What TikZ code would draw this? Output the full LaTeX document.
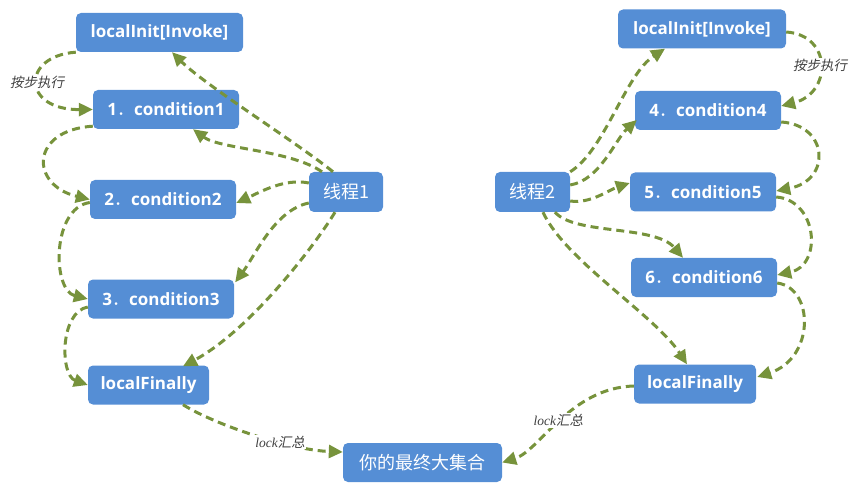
\documentclass[tikz,border=0pt]{standalone}
\usepackage{fontspec}
\setmainfont{Open Sans}
\newfontfamily\cjk{Noto Sans CJK SC}
\newfontfamily\cjkit{Noto Sans CJK SC}[FakeSlant=0.2]
\newfontfamily\serifit{Liberation Serif}
\usetikzlibrary{arrows.meta,calc}
\definecolor{boxblue}{HTML}{558ED5}
\definecolor{arrgreen}{HTML}{77933C}
\definecolor{lblgray}{HTML}{404040}
\newcommand{\cjkbig}{\cjk\mdseries\fontsize{18}{20}\selectfont}
\tikzset{
  box/.style={fill=boxblue, rounded corners=5pt, text=white, inner sep=0pt,
    minimum height=39pt, font=\fontsize{17}{20}\selectfont\bfseries},
  flow/.style={draw=arrgreen, line width=3pt, dash pattern=on 8pt off 5pt,
    -{Triangle[length=14pt,width=13pt]}},
  lbl/.style={font=\fontsize{13.5}{15}\selectfont, text=lblgray, fill=white, inner sep=1pt},
}
\begin{document}
\begin{tikzpicture}[x=1pt,y=-1pt]
\useasboundingbox (0,0) rectangle (864,494);
% left column
\node[box, minimum width=167pt] (iL) at (159.5,32.5) {localInit[Invoke]};
\node[box, minimum width=146pt] (c1) at (166,109.5) {1{\cjk\mdseries ．}condition1};
\node[box, minimum width=146pt] (c2) at (163,199.5) {2{\cjk\mdseries ．}condition2};
\node[box, minimum width=146pt] (c3) at (161,299) {3{\cjk\mdseries ．}condition3};
\node[box, minimum width=121pt] (fL) at (148.5,385) {localFinally};
\node[box, minimum width=74pt, minimum height=40pt] (t1) at (346,192) {{\cjkbig 线程1}};
% bottom
\node[box, minimum width=159pt] (fin) at (422.5,462.5) {{\cjkbig 你的最终大集合}};
% right column
\node[box, minimum width=168pt] (iR) at (702,29) {localInit[Invoke]};
\node[box, minimum width=146pt] (c4) at (708,110.5) {4{\cjk\mdseries ．}condition4};
\node[box, minimum width=146pt] (c5) at (703,192) {5{\cjk\mdseries ．}condition5};
\node[box, minimum width=146pt] (c6) at (704,277.5) {6{\cjk\mdseries ．}condition6};
\node[box, minimum width=122pt] (fR) at (695,384) {localFinally};
\node[box, minimum width=75pt, minimum height=40pt] (t2) at (532.5,192) {{\cjkbig 线程2}};

% left chain
\draw[flow] (iL.south west) .. controls +(-55,4) and +(-71,0.5) .. (c1.west)
  node[lbl, pos=0.5] {\cjkit 按步执行};
\draw[flow] ($(c1.south west)+(0,-3)$) .. controls +(-63,4) and +(-60,-14.5) .. (c2.west);
\draw[flow] ($(c2.west)+(0,3)$) .. controls +(-38,5.5) and +(-36,-9) .. (c3.west);
\draw[flow] ($(c3.west)+(0,8)$) .. controls +(-28,5) and +(-28,-10) .. (fL.west);
% thread 1
\draw[flow] ($(t1.north)+(-13,0)$) .. controls +(-33,-27) and +(33,33) .. ($(iL.south)+(12.5,0)$);
\draw[flow] ($(t1.north)+(-24,0)$) .. controls +(-32,-22) and +(27,20) .. ($(c1.south)+(27,0)$);
\draw[flow] ($(t1.west)+(0,-9)$) .. controls +(-24,-5) and +(24,-11) .. ($(c2.east)+(0,3.5)$);
\draw[flow] ($(t1.west)+(0,11)$) .. controls +(-34,7) and +(20,-27) .. ($(c3.north east)+(1,3)$);
\draw[flow] ($(t1.south)+(-11,0)$) .. controls +(-20,33) and +(67,-36) .. ($(fL.north)+(34.5,1)$);
\draw[flow] ($(fL.south)+(34.5,0)$) .. controls +(32,20) and +(-53,-2) .. ($(fin.west)+(0,-10.5)$)
  node[lbl, pos=0.64] {{\serifit\itshape lock}{\cjkit 汇总}};
% thread 2
\draw[flow] (t2.north east) .. controls +(35,-22) and +(-40,26) .. ($(iR.south)+(-37,0)$);
\draw[flow] ($(t2.east)+(0,-7)$) .. controls +(30,-5) and +(-22,20) .. ($(c4.west)+(2,9.5)$);
\draw[flow] ($(t2.east)+(0,9)$) .. controls +(20,3) and +(-21,7) .. ($(c5.west)+(0,-9)$);
\draw[flow] ($(t2.south)+(22.5,0)$) .. controls +(20,23) and +(-28,-33) .. ($(c6.north)+(-21,0)$);
\draw[flow] ($(t2.south)+(10.5,0)$) .. controls +(22,48) and +(-32,-49) .. ($(fR.north)+(-8,0)$);
% right chain
\draw[flow] ($(iR.east)+(0,3)$) .. controls +(46,3) and +(51,-13) .. ($(c4.east)+(0,-4.5)$)
  node[lbl, pos=0.5] {\cjkit 按步执行};
\draw[flow] ($(c4.east)+(0,11.5)$) .. controls +(47,3) and +(56,-11) .. ($(c5.east)+(0,-1)$);
\draw[flow] ($(c5.east)+(0,5)$) .. controls +(41,3) and +(46,-10) .. ($(c6.east)+(0,-2.5)$);
\draw[flow] ($(c6.east)+(0,5.5)$) .. controls +(37,5) and +(58,-19) .. ($(fR.east)+(1,-7)$);
\draw[flow] ($(fR.west)+(0,2)$) .. controls +(-64,2) and +(38,-12) .. (fin.east)
  node[lbl, pos=0.5] {{\serifit\itshape lock}{\cjkit 汇总}};
\end{tikzpicture}
\end{document}
